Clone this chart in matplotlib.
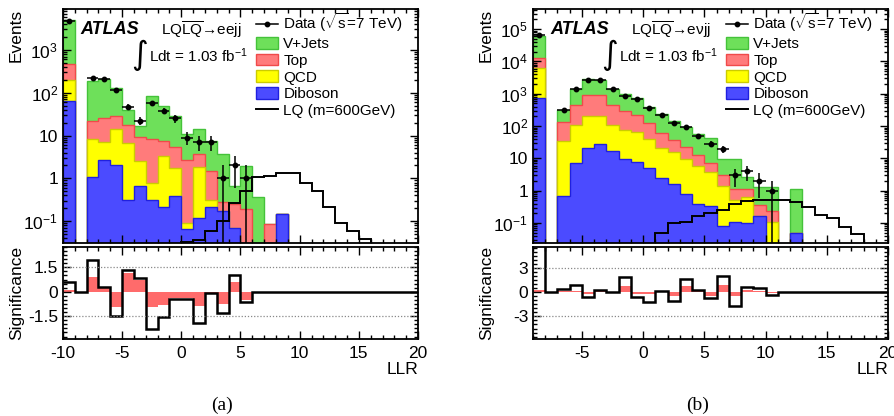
import numpy as np
import matplotlib
matplotlib.use("Agg")
import matplotlib.pyplot as plt
from matplotlib.ticker import FixedLocator, MultipleLocator, NullFormatter
from matplotlib.patches import Patch
from matplotlib.lines import Line2D

plt.rcParams['font.family'] = ['Liberation Sans', 'DejaVu Sans']
plt.rcParams['mathtext.fontset'] = 'custom'
plt.rcParams['mathtext.rm'] = 'Liberation Sans'
plt.rcParams['mathtext.it'] = 'Liberation Sans:italic'
plt.rcParams['mathtext.bf'] = 'Liberation Sans:bold'
plt.rcParams['mathtext.default'] = 'regular'
plt.rcParams['axes.unicode_minus'] = False

# ---- panel (a): LQLQ -> eejj, bins of 1 from -10 to 20
edges_a = np.arange(-10, 21)
data_a = [4700, 0, 218, 210, 116, 47, 22, 58, 38, 25, 9, 7, 7, 1, 2, 1, 0, 0, 0, 0,
          0, 0, 0, 0, 0, 0, 0, 0, 0, 0]
diboson_a = [65, 0, 1.1, 2.7, 2.1, 0.32, 0.67, 0.31, 0.21, 0.39, 0.065, 0.12, 0.22, 0.17, 0.07,
             0, 0, 0, 0.15, 0, 0, 0, 0, 0, 0, 0, 0, 0, 0, 0]
qcd_a = [135, 0, 7.2, 4.2, 12.2, 6.3, 1.9, 0.45, 3.2, 1.4, 0.028, 1.7, 0.09, 0, 0,
         0, 0, 0, 0, 0, 0, 0, 0, 0, 0, 0, 0, 0, 0, 0]
top_a = [270, 0, 13.3, 18.8, 14, 11.4, 6.8, 7.5, 4.2, 3.6, 2.6, 1.9, 1.2, 0.11, 0.18,
         0.19, 0.02, 0.087, 0, 0, 0, 0, 0, 0, 0, 0, 0, 0, 0, 0]
vjets_a = [4430, 0, 168, 179, 102, 22, 7.6, 74, 42, 22.6, 8.3, 10.3, 5.8, 3.5, 0.43,
           1.78, 0.34, 0, 0, 0, 0, 0, 0, 0, 0, 0, 0, 0, 0, 0]
lq_a = [0, 0, 0, 0, 0, 0, 0, 0, 0, 0, 0.033, 0.036, 0.06, 0.10, 0.26, 0.52, 1.05, 1.15,
        1.3, 1.3, 0.8, 0.52, 0.21, 0.093, 0.06, 0.038, 0, 0, 0, 0]
sig_a = [0.57, 0, 1.98, 0.31, -1.49, 1.33, 0.86, -2.31, -1.53, -0.47, -0.47, -1.9, -0.1,
         -1.33, 1.06, -0.61, 0, 0, 0, 0, 0, 0, 0, 0, 0, 0, 0, 0, 0, 0]
sig_syst_a = [0.1, 0, 0.88, 0.27, -0.96, 1.16, 0.71, -0.96, -0.82, -0.37, -0.37, -0.88, -0.06,
              -0.76, 0.57, -0.51, 0, 0, 0, 0, 0, 0, 0, 0, 0, 0, 0, 0, 0, 0]

# ---- panel (b): LQLQ -> evjj, bins of 1 from -9 to 20
edges_b = np.arange(-9, 21)
data_b = [64000, 0, 325, 1450, 2660, 2590, 1360, 880, 710, 360, 217, 128, 92, 48, 28, 19,
          3, 4, 2, 1, 0, 0, 0, 0, 0, 0, 0, 0, 0]
diboson_b = [750, 0, 0.67, 7.2, 21, 27, 16.6, 9.8, 7.6, 5.0, 2.5, 1.65, 0.79, 0.4, 0.33,
             0.078, 0.11, 0.1, 0.17, 0, 0, 0.048, 0, 0, 0, 0, 0, 0, 0]
qcd_b = [5550, 0, 34.3, 104, 190, 184, 94, 68, 56, 35, 18.5, 13.9, 8.8, 5.6, 3.4, 1.35,
         0.42, 0.52, 0, 0.11, 0, 0, 0, 0, 0, 0, 0, 0, 0]
top_b = [6700, 0, 103, 339, 719, 689, 354, 212, 164, 80, 40, 22.5, 13, 7, 3.5, 1.67,
         0.57, 0.48, 0.18, 0.12, 0, 0, 0, 0, 0, 0, 0, 0, 0]
vjets_b = [49000, 0, 187, 1000, 1840, 1760, 955, 660, 522, 265, 167, 103, 72, 45, 35, 6.5,
           8.5, 1.55, 0.92, 1.04, 0, 1.1, 0, 0, 0, 0, 0, 0, 0]
lq_b = [0, 0, 0, 0, 0, 0, 0, 0, 0, 0, 0.049, 0.1, 0.107, 0.16, 0.2, 0.26, 0.38, 0.47,
        0.5, 0.53, 0.53, 0.45, 0.31, 0.18, 0.14, 0.075, 0.047, 0, 0]
sig_b = [7, 0, 0.37, 0.9, -0.61, 0.29, 0, 1.84, -0.61, -1.23, 0.2, -1.1, 1.64, 0.29, -0.74,
         2.0, -1.76, 0.61, 0.49, -0.29, 0, 0, 0, 0, 0, 0, 0, 0, 0]
sig_syst_b = [0.29, 0, 0.2, 0.2, -0.2, 0.2, 0, 0.74, -0.2, -0.2, 0.05, -0.45, 0.82, 0.2,
              -0.45, 0.9, -0.45, 0.29, 0.2, -0.12, 0, 0, 0, 0, 0, 0, 0, 0, 0]

legend_labels = [r'Data ($\sqrt{s}$=7 TeV)', 'V+Jets', 'Top', 'QCD', 'Diboson', 'LQ (m=600GeV)']

# fill / edge colours, ROOT-ish
col = {
    'vjets': ('#6ee05a', '#45c23a'),
    'top': ('#ff7b7b', '#f04a4a'),
    'qcd': ('#ffff00', '#cccc00'),
    'diboson': ('#4b4bff', '#2020e0'),
}
FLOOR = 1e-5


def style_axis(ax):
    ax.tick_params(which='both', direction='in', top=True, right=True, labelsize=12.5, width=1)
    ax.tick_params(which='major', length=6)
    ax.tick_params(which='minor', length=3)
    for s in ax.spines.values():
        s.set_linewidth(1.3)


def draw(ax, axr, edges, data, dib, qcd, top, vjets, lq, sig, sig_syst,
         ylim, ytick_exp, sig_lim, sig_major, sig_minor, channel):
    dib, qcd, top, vjets = map(np.asarray, (dib, qcd, top, vjets))
    c1 = dib
    c2 = c1 + qcd
    c3 = c2 + top
    c4 = c3 + vjets
    for cum, key in [(c4, 'vjets'), (c3, 'top'), (c2, 'qcd'), (c1, 'diboson')]:
        ax.stairs(np.maximum(cum, FLOOR), edges, baseline=FLOOR, fill=True,
                  facecolor=col[key][0], edgecolor=col[key][1], lw=1.0)
    ax.stairs(np.maximum(lq, FLOOR), edges, baseline=None, color='black', lw=1.4)

    d = np.asarray(data, dtype=float)
    centers = 0.5 * (edges[:-1] + edges[1:])
    m = d > 0
    lo = np.minimum(np.sqrt(d[m]), d[m] - 1e-4)
    hi = np.sqrt(d[m])
    ax.errorbar(centers[m], d[m], yerr=[lo, hi], xerr=0.5, fmt='o', ms=3.2,
                color='black', lw=1.1, capsize=0)

    ax.set_yscale('log')
    ax.set_xlim(edges[0], edges[-1])
    ax.set_ylim(*ylim)
    ax.yaxis.set_major_locator(FixedLocator([10.0 ** e for e in ytick_exp]))
    labels = []
    for e in ytick_exp:
        if e == 0:
            labels.append('1')
        elif e == 1:
            labels.append('10')
        else:
            labels.append(r'$10^{%d}$' % e)
    ax.set_yticklabels(labels)
    minors = [k * 10.0 ** e for e in range(-3, 7) for k in range(2, 10)]
    ax.yaxis.set_minor_locator(FixedLocator(minors))
    ax.yaxis.set_minor_formatter(NullFormatter())
    ax.xaxis.set_major_locator(MultipleLocator(5))
    ax.xaxis.set_minor_locator(MultipleLocator(1))
    ax.set_xticklabels([])
    style_axis(ax)
    ax.set_ylabel('Events', fontsize=12.5, loc='top')
    ax.yaxis.set_label_coords(-0.11, 1.0)

    ax.text(0.05, 0.895, 'ATLAS', transform=ax.transAxes, fontsize=13,
            fontweight='bold', fontstyle='italic', va='baseline')
    ax.text(0.277, 0.885, r'LQ$\overline{\mathrm{LQ}}$' + '\u2192' + channel,
            transform=ax.transAxes, fontsize=11, va='baseline')
    ax.text(0.193, 0.80, '\u222b', transform=ax.transAxes, fontsize=23,
            va='center', family=['DejaVu Sans'])
    ax.text(0.242, 0.772, r'Ldt = 1.03 fb$^{-1}$', transform=ax.transAxes,
            fontsize=11, va='baseline')

    handles = [Line2D([], [], color='black', marker='o', ms=3.2, lw=1.1),
               Patch(facecolor=col['vjets'][0], edgecolor=col['vjets'][1]),
               Patch(facecolor=col['top'][0], edgecolor=col['top'][1]),
               Patch(facecolor=col['qcd'][0], edgecolor=col['qcd'][1]),
               Patch(facecolor=col['diboson'][0], edgecolor=col['diboson'][1]),
               Line2D([], [], color='black', lw=1.4)]
    ax.legend(handles, legend_labels, loc='upper left', bbox_to_anchor=(0.543, 0.99),
              frameon=False, fontsize=11, handlelength=1.45, handleheight=0.8,
              labelspacing=0.17, handletextpad=0.35, borderaxespad=0, borderpad=0)

    # significance panel
    axr.stairs(sig_syst, edges, baseline=0, fill=True, color='#ff6b6b', lw=0)
    axr.stairs(sig, edges, baseline=None, color='black', lw=1.8)
    for yv in (-sig_major, sig_major):
        axr.axhline(yv, color='#888888', ls=(0, (1, 1.5)), lw=0.9)
    axr.set_xlim(edges[0], edges[-1])
    axr.set_ylim(*sig_lim)
    axr.yaxis.set_major_locator(FixedLocator([-sig_major, 0, sig_major]))
    axr.set_yticklabels(['%g' % -sig_major, '0', '%g' % sig_major])
    axr.yaxis.set_minor_locator(MultipleLocator(sig_minor))
    axr.xaxis.set_major_locator(MultipleLocator(5))
    axr.xaxis.set_minor_locator(MultipleLocator(1))
    style_axis(axr)
    axr.tick_params(axis='x', pad=5)
    axr.set_ylabel('Significance', fontsize=12.5)
    axr.yaxis.set_label_coords(-0.11, 0.5)
    axr.set_xlabel('LLR', fontsize=12.5, loc='right')
    axr.xaxis.set_label_coords(1.0, -0.25)


fig = plt.figure(figsize=(8.95, 4.16), dpi=100)
W, H = 895.0, 416.0
ax_a = fig.add_axes([63 / W, 1 - 243 / H, 355 / W, 234 / H])
axr_a = fig.add_axes([63 / W, 1 - 339 / H, 355 / W, 92 / H])
ax_b = fig.add_axes([533 / W, 1 - 243 / H, 355 / W, 234 / H])
axr_b = fig.add_axes([533 / W, 1 - 339 / H, 355 / W, 92 / H])

draw(ax_a, axr_a, edges_a, data_a, diboson_a, qcd_a, top_a, vjets_a, lq_a, sig_a, sig_syst_a,
     (0.031, 9000), [-1, 0, 1, 2, 3], (-2.9, 2.75), 1.5, 0.25, 'eejj')
draw(ax_b, axr_b, edges_b, data_b, diboson_b, qcd_b, top_b, vjets_b, lq_b, sig_b, sig_syst_b,
     (0.024, 4.2e5), [-1, 0, 1, 2, 3, 4, 5], (-5.8, 5.6), 3, 0.5, 'e\u03bdjj')

fig.text(222 / W, 1 - 405 / H, '(a)', fontsize=14, family='Liberation Serif',
         ha='center', va='center')
fig.text(698 / W, 1 - 405 / H, '(b)', fontsize=14, family='Liberation Serif',
         ha='center', va='center')

fig.savefig('out.png', dpi=100)
